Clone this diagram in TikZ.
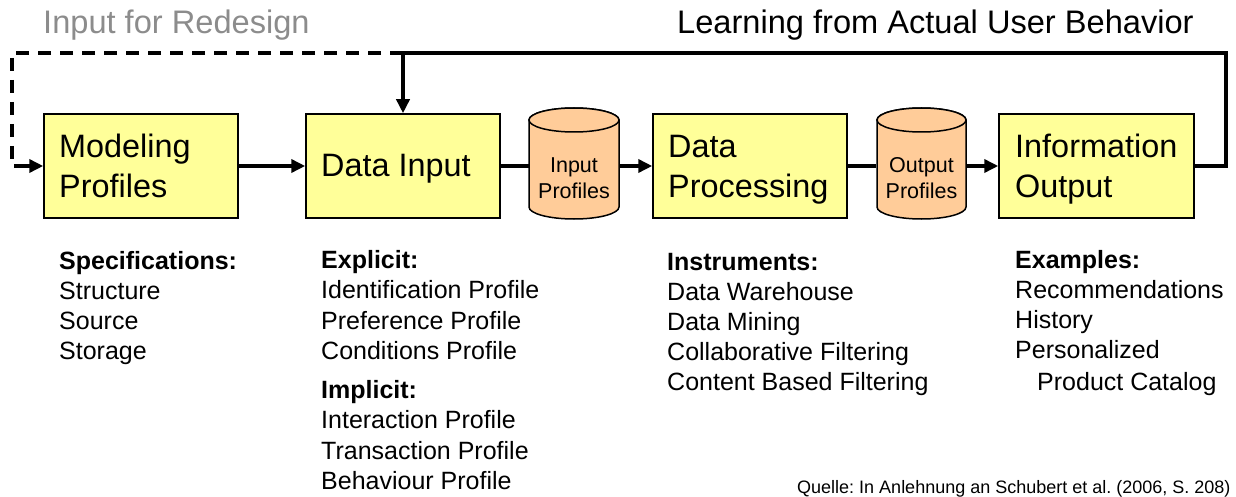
\documentclass[tikz,border=0pt]{standalone}
\usepackage{fontspec}
\setmainfont{Liberation Sans}
\usetikzlibrary{arrows.meta}
\frenchspacing
\definecolor{boxyellow}{RGB}{255,255,153}
\definecolor{cylorange}{RGB}{255,204,153}
\definecolor{titlegray}{RGB}{140,140,140}
\tikzset{
  procbox/.style={draw=black, line width=1.5pt, fill=boxyellow, minimum width=194pt, minimum height=104pt, inner sep=0pt},
  boxtext/.style={anchor=base west, inner sep=0pt, font=\fontsize{32.4}{39}\selectfont},
  cylnode/.style={minimum width=90pt, minimum height=111pt, inner sep=0pt},
  cylshape/.style={draw=black, line width=1.5pt, fill=cylorange},
  conn/.style={line width=3.5pt, line join=miter},
  arr/.style={conn, -{Triangle[length=14pt,width=13pt]}},
  dashconn/.style={conn, dash pattern=on 13pt off 9pt},
  cyltext/.style={anchor=base, inner sep=0pt, font=\fontsize{21.5}{25}\selectfont},
  lbl/.style={anchor=base west, inner sep=0pt, font=\fontsize{25}{30}\selectfont},
  lblbold/.style={anchor=base west, inner sep=0pt, font=\fontsize{25}{30}\selectfont\bfseries},
  bigtitle/.style={anchor=base west, inner sep=0pt, font=\fontsize{32.6}{39}\selectfont},
  srcnote/.style={anchor=base west, inner sep=0pt, font=\fontsize{18}{22}\selectfont},
}
\begin{document}
\begin{tikzpicture}[x=1pt, y=-1pt]
\useasboundingbox (0,0) rectangle (1236,497);

% titles
\node[bigtitle, text=titlegray] (t1) at (43,34) {Input for Redesign};
\node[bigtitle] (t2) at (677,34) {Learning from Actual User Behavior};

% process boxes
\node[procbox] (mp) at (141,166) {};
\node[boxtext] (mp1) at (59,158) {Modeling};
\node[boxtext] (mp2) at (59,197) {Profiles};
\node[procbox] (di) at (403,166) {};
\node[boxtext] (di1) at (321,177) {Data Input};
\node[procbox] (dp) at (750,166) {};
\node[boxtext] (dp1) at (668,158) {Data};
\node[boxtext] (dp2) at (668,197) {Processing};
\node[procbox, minimum width=195pt] (io) at (1096.5,166) {};
\node[boxtext] (io1) at (1015,158) {Information};
\node[boxtext] (io2) at (1015,197) {Output};

% cylinders
\path[cylshape] (529,120) -- (529,207) arc[start angle=180, end angle=0, x radius=45, y radius=12]
  -- (619,120) arc[start angle=0, end angle=-180, x radius=45, y radius=12] -- cycle;
\draw[cylshape] (574,120) ellipse[x radius=45, y radius=12];
\node[cylnode] (c1) at (574,163.5) {};
\node[cyltext] (c1a) at (574,173) {Input};
\node[cyltext] (c1b) at (574,198) {Profiles};

\path[cylshape] (877,120) -- (877,207) arc[start angle=180, end angle=0, x radius=44.5, y radius=12]
  -- (966,120) arc[start angle=0, end angle=-180, x radius=44.5, y radius=12] -- cycle;
\draw[cylshape] (921.5,120) ellipse[x radius=44.5, y radius=12];
\node[cylnode] (c2) at (921.5,163.5) {};
\node[cyltext] (c2a) at (921.5,173) {Output};
\node[cyltext] (c2b) at (921.5,198) {Profiles};

% main flow
\draw[arr] (mp.east) -- (di.west);
\draw[conn] (di.east) -- (c1.west |- di.east);
\draw[arr] (c1.east |- dp.west) -- (dp.west);
\draw[conn] (dp.east) -- (c2.west |- dp.east);
\draw[arr] (c2.east |- io.west) -- (io.west);

% feedback loops
\coordinate (r) at (1226,53);
\coordinate (l) at (12,53);
\draw[conn] (io.east) -| (r) -- (di.north |- r);
\draw[arr] (di.north |- r) -- (di.north);
\draw[dashconn] (di.north |- r) -- (l) -- (l |- mp.west) -- ([xshift=-22pt]mp.west);
\draw[arr] ([xshift=-25pt]mp.west) -- (mp.west);

% column 1
\node[lblbold] (a0) at (59,269) {Specifications:};
\node[lbl] (a1) at (59,299) {Structure};
\node[lbl] (a2) at (59,329) {Source};
\node[lbl] (a3) at (59,359) {Storage};

% column 2
\node[lblbold] (b0) at (321,268) {Explicit:};
\node[lbl] (b1) at (321,298) {Identification Profile};
\node[lbl] (b2) at (321,329) {Preference Profile};
\node[lbl] (b3) at (321,359) {Conditions Profile};
\node[lblbold] (b4) at (321,398) {Implicit:};
\node[lbl] (b5) at (321,428) {Interaction Profile};
\node[lbl] (b6) at (321,459) {Transaction Profile};
\node[lbl] (b7) at (321,489) {Behaviour Profile};

% column 3
\node[lblbold] (d0) at (667,270) {Instruments:};
\node[lbl] (d1) at (667,300) {Data Warehouse};
\node[lbl] (d2) at (667,330) {Data Mining};
\node[lbl] (d3) at (667,360) {Collaborative Filtering};
\node[lbl] (d4) at (667,390) {Content Based Filtering};

% column 4
\node[lblbold] (e0) at (1015,268) {Examples:};
\node[lbl] (e1) at (1015,298) {Recommendations};
\node[lbl] (e2) at (1015,328) {History};
\node[lbl] (e3) at (1015,358) {Personalized};
\node[lbl] (e4) at (1037,390) {Product Catalog};

% source
\node[srcnote] (q) at (797,493) {Quelle: In Anlehnung an Schubert et al. (2006, S. 208)};
\end{tikzpicture}
\end{document}
